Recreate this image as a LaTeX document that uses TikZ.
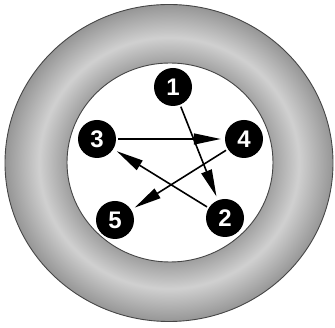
\documentclass[tikz,border=0pt]{standalone}
\usepackage{fontspec}
\newfontfamily\lsans{Liberation Sans}
\usetikzlibrary{arrows.meta}
\definecolor{rd}{RGB}{160,160,160}
\definecolor{rl}{RGB}{208,208,208}
\definecolor{ro}{RGB}{150,150,150}
\definecolor{rline}{RGB}{70,70,70}
\pgfdeclareradialshading{ringshade}{\pgfpoint{0bp}{0bp}}{color(0bp)=(rd); color(15.7bp)=(rd); color(19.8bp)=(rl); color(25bp)=(ro); color(50bp)=(ro)}
\tikzset{
  num/.style={circle, fill=black, minimum size=38pt, inner sep=0pt, text=white,
    font=\lsans\bfseries\fontsize{24}{24}\selectfont},
  arr/.style={line width=1.6pt, -{Triangle[length=27pt,width=11pt]}, shorten <=2pt, shorten >=4pt},
  ringline/.style={draw=rline, line width=0.9pt}
}
\begin{document}
\begin{tikzpicture}[x=1pt,y=-1pt]
\useasboundingbox (0,0) rectangle (335,328);
\coordinate (oc) at (169,163);
\coordinate (ic) at (170,162.5);
\shade[shading=ringshade, even odd rule] (oc) ellipse [x radius=164, y radius=158.5] (ic) ellipse [x radius=103, y radius=99.5];
\draw[ringline] (oc) ellipse [x radius=164, y radius=158.5];
\draw[ringline] (ic) ellipse [x radius=103, y radius=99.5];
\node[num] (n1) at (173,87) {1};
\node[num] (n2) at (225,218) {2};
\node[num] (n3) at (97,139) {3};
\node[num] (n4) at (244,139) {4};
\node[num] (n5) at (115,220) {5};
\draw[arr] (n1) -- (n2);
\draw[arr] (n3) -- (n4);
\draw[arr] (n4) -- (n5);
\draw[arr] (n2) -- (n3);
\end{tikzpicture}
\end{document}
